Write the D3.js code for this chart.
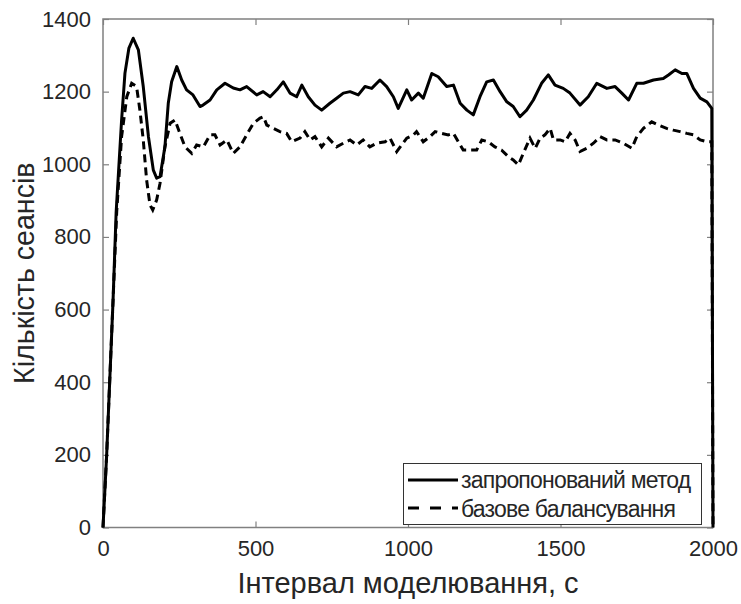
<!DOCTYPE html>
<html lang="uk">
<head>
    <meta charset="UTF-8">
    <title>Кількість сеансів</title>
    <script src="https://d3js.org/d3.v7.min.js"></script>
    <style>
        body { margin: 0; background: #fff; }
        text { font-family: Arial, "Liberation Sans", sans-serif; fill: #262626; }
    </style>
</head>
<body>
    <div id="chart"></div>
    <script>

// time axis labels / ticks
var xTicks = [0, 500, 1000, 1500, 2000];
var yTicks = [0, 200, 400, 600, 800, 1000, 1200, 1400];

// proposed method (solid)
var proposedT = [0,12,33,43,61,72,85,99,116,132,149,165,176,187,203,214,225,242,258,274,295,318,328,351,373,400,427,449,471,504,525,548,570,591,613,635,652,673,695,717,744,766,788,810,837,859,881,908,930,952,968,996,1012,1034,1050,1078,1099,1127,1149,1171,1193,1214,1236,1258,1280,1302,1324,1345,1367,1389,1411,1438,1460,1482,1509,1531,1564,1591,1619,1652,1679,1701,1723,1750,1772,1805,1837,1854,1876,1898,1914,1936,1958,1980,1996,2000];
var proposedN = [0,200,626,866,1122,1251,1320,1347,1315,1214,1076,984,962,966,1048,1168,1227,1269,1232,1205,1191,1159,1163,1177,1205,1223,1210,1205,1214,1191,1200,1186,1205,1227,1196,1186,1218,1186,1163,1149,1168,1182,1196,1200,1191,1214,1209,1232,1214,1186,1154,1205,1177,1196,1182,1250,1241,1214,1218,1168,1149,1136,1186,1227,1232,1200,1172,1159,1131,1149,1177,1223,1246,1218,1209,1196,1163,1186,1223,1209,1214,1196,1177,1223,1223,1232,1236,1246,1260,1250,1250,1209,1182,1172,1154,0];

// base balancing (dashed)
var baseT = [0,12,33,45,61,78,94,110,121,132,143,154,163,176,187,203,220,236,252,269,291,307,329,351,367,384,406,427,449,471,493,515,526,537,558,580,602,619,646,662,679,695,717,739,766,788,810,832,853,875,897,925,941,963,979,996,1018,1028,1050,1072,1089,1111,1132,1149,1165,1181,1203,1225,1242,1263,1285,1307,1329,1345,1362,1378,1400,1417,1433,1449,1466,1477,1499,1515,1531,1548,1564,1586,1608,1630,1652,1679,1706,1734,1750,1772,1799,1821,1848,1870,1892,1914,1936,1958,1980,1996,2000];
var baseN = [0,200,626,870,1076,1186,1223,1214,1149,1067,957,888,874,902,948,1048,1113,1122,1085,1048,1030,1053,1048,1081,1081,1053,1067,1030,1048,1081,1113,1127,1131,1108,1099,1090,1085,1062,1072,1090,1067,1076,1048,1072,1048,1058,1067,1053,1067,1048,1058,1062,1072,1035,1053,1072,1081,1090,1062,1076,1090,1085,1081,1085,1062,1039,1039,1039,1067,1062,1048,1039,1021,1012,998,1030,1072,1044,1072,1081,1099,1067,1067,1062,1085,1067,1035,1044,1058,1076,1067,1067,1058,1044,1076,1099,1117,1108,1099,1094,1090,1085,1081,1067,1062,1062,0];

var seriesNames = ['запропонований метод', 'базове балансування'];

var W = 741, H = 604;
var plot = { x0: 103, x1: 713, y0: 19, y1: 527.5 };

var svg = d3.select('#chart').append('svg')
    .attr('width', W)
    .attr('height', H);

var x = d3.scaleLinear().domain([0, 2000]).range([plot.x0, plot.x1]);
var y = d3.scaleLinear().domain([0, 1400]).range([plot.y1, plot.y0]);

var axisColor = '#808080';

// box
svg.append('rect')
    .attr('x', plot.x0).attr('y', plot.y0)
    .attr('width', plot.x1 - plot.x0).attr('height', plot.y1 - plot.y0)
    .attr('fill', 'none').attr('stroke', axisColor).attr('stroke-width', 1.5);

// axes with inner ticks
function styleAxis(g) {
    g.select('.domain').remove();
    g.selectAll('.tick line').attr('stroke', axisColor).attr('stroke-width', 1.2);
    g.selectAll('.tick text').style('font-size', '22px').attr('fill', '#262626');
}

svg.append('g').attr('transform', 'translate(0,' + plot.y1 + ')')
    .call(d3.axisBottom(x).tickValues(xTicks).tickSize(-6).tickPadding(13).tickFormat(d3.format('d')))
    .call(styleAxis);
svg.append('g').attr('transform', 'translate(0,' + plot.y0 + ')')
    .call(d3.axisTop(x).tickValues(xTicks).tickSize(-6).tickFormat(''))
    .call(styleAxis);
svg.append('g').attr('transform', 'translate(' + plot.x0 + ',0)')
    .call(d3.axisLeft(y).tickValues(yTicks).tickSize(-6).tickPadding(12).tickFormat(d3.format('d')))
    .call(styleAxis);
svg.append('g').attr('transform', 'translate(' + plot.x1 + ',0)')
    .call(d3.axisRight(y).tickValues(yTicks).tickSize(-6).tickFormat(''))
    .call(styleAxis);

// axis titles
svg.append('text')
    .attr('x', (plot.x0 + plot.x1) / 2).attr('y', 593)
    .attr('text-anchor', 'middle')
    .style('font-size', '29px')
    .text('Інтервал моделювання, с');

svg.append('text')
    .attr('transform', 'translate(34,' + (plot.y0 + plot.y1) / 2 + ') rotate(-90)')
    .attr('text-anchor', 'middle')
    .style('font-size', '28.6px')
    .text('Кількість сеансів');

// lines
var line = d3.line()
    .x(function (d) { return x(d[0]); })
    .y(function (d) { return y(d[1]); });

var proposed = proposedT.map(function (t, i) { return [t, proposedN[i]]; });
var base = baseT.map(function (t, i) { return [t, baseN[i]]; });

svg.append('path')
    .datum(base)
    .attr('d', line)
    .attr('fill', 'none')
    .attr('stroke', '#000')
    .attr('stroke-width', 3)
    .attr('stroke-dasharray', '8,5');

svg.append('path')
    .datum(proposed)
    .attr('d', line)
    .attr('fill', 'none')
    .attr('stroke', '#000')
    .attr('stroke-width', 3)
    .attr('stroke-linejoin', 'round');

// legend
var legend = svg.append('g');
legend.append('rect')
    .attr('x', 403.5).attr('y', 463.5)
    .attr('width', 298).attr('height', 61)
    .attr('fill', '#fff').attr('stroke', '#333').attr('stroke-width', 1);

legend.selectAll('line.key')
    .data(seriesNames)
    .enter().append('line')
    .attr('class', 'key')
    .attr('x1', 408).attr('x2', 458)
    .attr('y1', function (d, i) { return 480 + i * 28; })
    .attr('y2', function (d, i) { return 480 + i * 28; })
    .attr('stroke', '#000')
    .attr('stroke-width', 3)
    .attr('stroke-dasharray', function (d, i) { return i ? '11,11' : null; });

legend.selectAll('text.key')
    .data(seriesNames)
    .enter().append('text')
    .attr('class', 'key')
    .attr('x', 461)
    .attr('y', function (d, i) { return 488 + i * 28.5; })
    .style('font-size', '23px')
    .style('letter-spacing', '-0.8px')
    .text(function (d) { return d; });

    </script>
</body>
</html>
